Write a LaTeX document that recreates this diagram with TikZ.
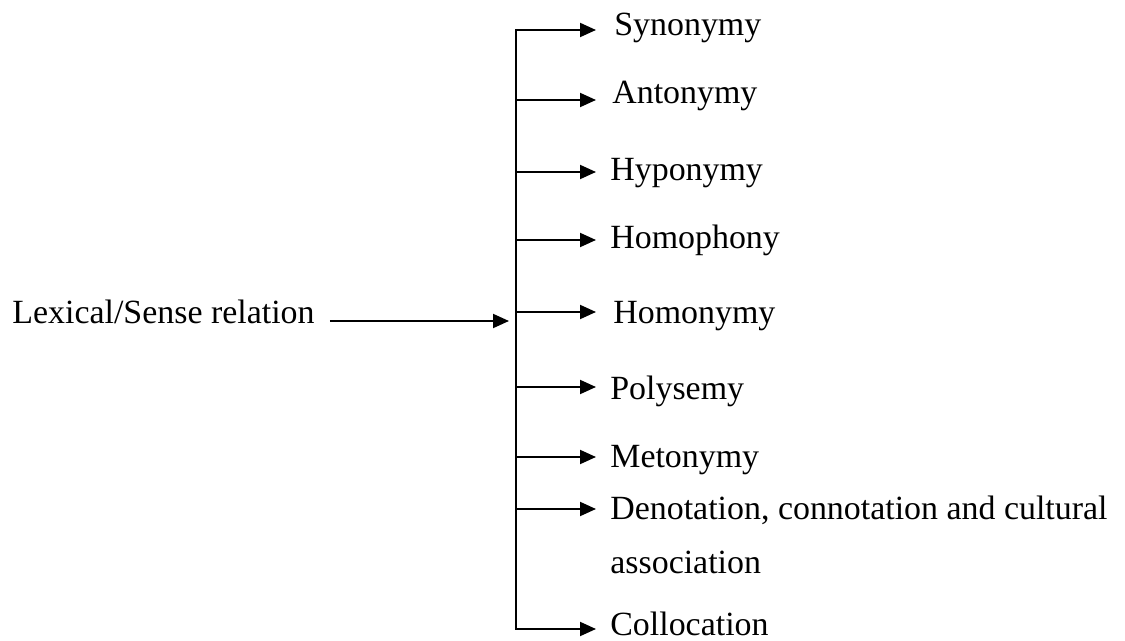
\documentclass[tikz,border=0pt]{standalone}
\usepackage{fontspec}
\setmainfont{Liberation Serif}
\usepackage{tikz}
\usetikzlibrary{arrows.meta}

\begin{document}
\begin{tikzpicture}[x=0.02cm, y=-0.02cm,
		every node/.style={font=\fontsize{19.3}{23}\selectfont, inner sep=0pt, anchor=base west},
		line/.style={line width=1.1pt, line cap=rect},
		arr/.style={line width=1.1pt, -{Triangle[length=0.32cm,width=0.28cm]}},
		]
		\useasboundingbox (0,0) rectangle (1125,641);
		% left label and the trunk
		\node (lex) at (12,324) {Lexical/Sense relation};
		\coordinate (m) at (516,321);
		\draw[arr, shorten <=0.3cm, shorten >=0.14cm] (lex.east |- m) -- (m);
		% branches
		\foreach \y/\b/\x/\n/\t in {30/36/614/syn/Synonymy, 100/104/612/ant/Antonymy,
			172/181/610/hyp/Hyponymy, 240/249/610/hph/Homophony, 312/324/613/hom/Homonymy,
			387/399/610/pol/Polysemy, 457/467/610/met/Metonymy,
			509/519/610/den/{Denotation, connotation and cultural}, 629/635/610/col/Collocation}
		{
			\coordinate (b-\n) at (516,\y);
			\node (\n) at (\x,\b) {\t};
			\pgfmathsetmacro\gap{(\x-596)*0.02}
			\draw[arr, shorten >=\gap cm] (b-\n) -- (b-\n -| \n.west);
		}
		\node (assoc) at (610,573) {association};
		\draw[line] (b-syn) -- (b-col);
		
\end{tikzpicture}
\end{document}
